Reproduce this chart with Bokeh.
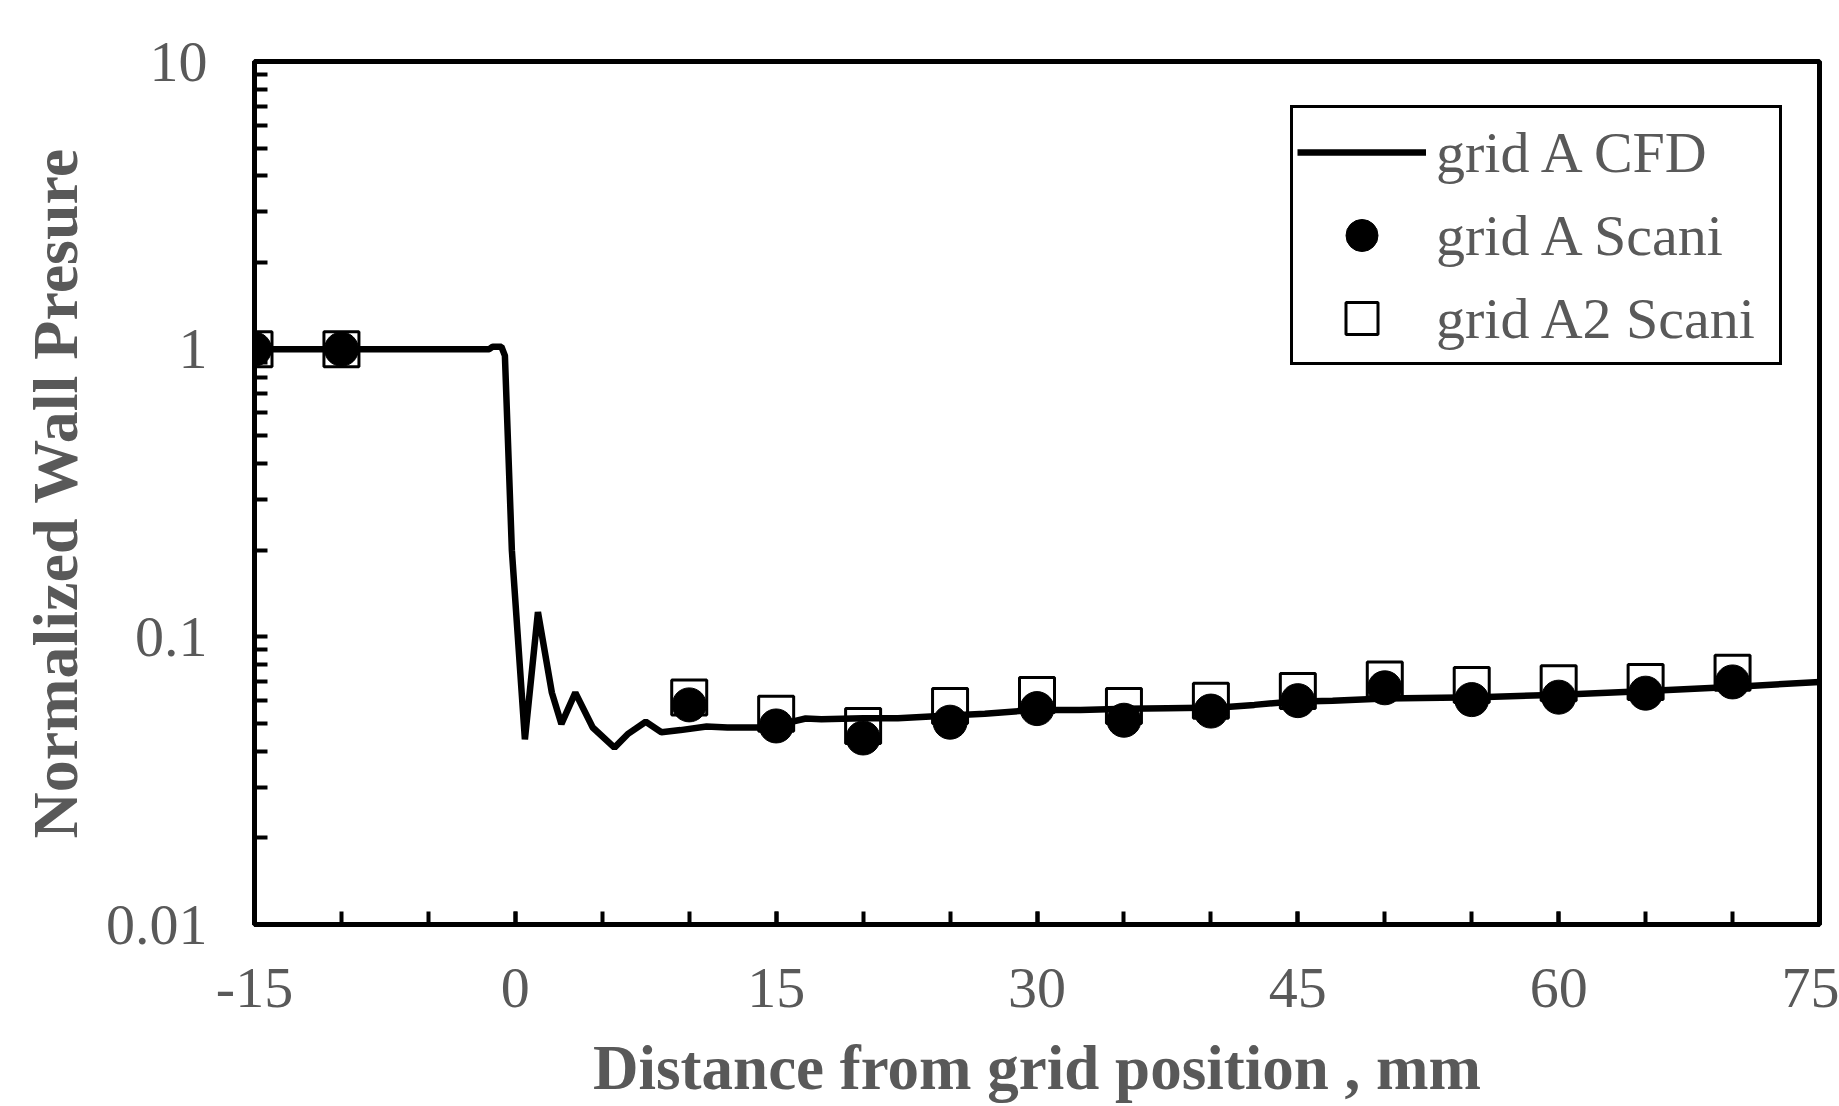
from bokeh.plotting import figure
from bokeh.models import Range1d, FixedTicker, CustomJSTickFormatter, Legend, LegendItem
from bokeh.embed import file_html
from bokeh.resources import INLINE

# ---- data ----
cfd_x = [-15, -1.5, -1.3, -0.8, -0.6, -0.2, 0.55, 1.3, 2.1, 2.65, 3.45, 4.45, 5.7,
         6.5, 7.5, 8.4, 9.5, 11, 12.2, 14.2, 15.5, 16.7, 17.6, 20, 22, 24.4, 27,
         29.8, 32.5, 35.1, 37.5, 40.5, 42.5, 44.6, 47, 50, 55.4, 60.1, 64.8, 70.2, 75]
cfd_y = [1.0, 1.0, 1.02, 1.02, 0.95, 0.2, 0.044, 0.122, 0.064, 0.0498, 0.064, 0.0484,
         0.0412, 0.0461, 0.0507, 0.0466, 0.0474, 0.0488, 0.0484, 0.0484, 0.0500, 0.052,
         0.0517, 0.0521, 0.0521, 0.0531, 0.054, 0.0557, 0.0557, 0.0562, 0.0565, 0.0568,
         0.058, 0.0595, 0.060, 0.0611, 0.0617, 0.0629, 0.0647, 0.0671, 0.0697]

scan_x = [-15, -10, 10, 15, 20, 25, 30, 35, 40, 45, 50, 55, 60, 65, 70]
gridA_scani = [1.0, 1.0, 0.058, 0.049, 0.0445, 0.0505, 0.0563, 0.0513, 0.0552,
               0.060, 0.0665, 0.0605, 0.0617, 0.0637, 0.0697]
gridA2_scani = [1.0, 1.0, 0.0615, 0.054, 0.049, 0.0575, 0.0628, 0.0575, 0.060,
                0.0648, 0.071, 0.068, 0.069, 0.0697, 0.075]

x_ticks = [-15, 0, 15, 30, 45, 60, 75]
x_minor_ticks = [-15, -10, -5, 0, 5, 10, 15, 20, 25, 30, 35, 40, 45, 50, 55, 60, 65, 70, 75]
y_ticks = [0.01, 0.1, 1, 10]
y_minor_ticks = [m * 10.0 ** e for e in (-2, -1, 0) for m in range(2, 10)]

x_title = "Distance from grid position , mm"
y_title = "Normalized Wall Presure"
labels = ["grid A CFD", "grid A Scani", "grid A2 Scani"]

FONT = "Liberation Serif"
GREY = "#595959"

p = figure(width=1839, height=1106,
           x_range=Range1d(-15, 75), y_range=Range1d(0.01, 10),
           y_axis_type="log", output_backend="svg", toolbar_location=None,
           min_border_left=254, min_border_right=20, min_border_top=61,
           min_border_bottom=182)
p.background_fill_color = "white"
p.border_fill_color = "white"
p.outline_line_color = "black"
p.outline_line_width = 5
p.grid.visible = False

xa = p.xaxis[0]
xa.ticker = FixedTicker(ticks=x_ticks, minor_ticks=x_minor_ticks)
xa.formatter = CustomJSTickFormatter(code="return tick.toString();")
ya = p.yaxis[0]
ya.ticker = FixedTicker(ticks=y_ticks, minor_ticks=y_minor_ticks)
ya.formatter = CustomJSTickFormatter(code="return tick.toString();")

for ax in (xa, ya):
    ax.axis_line_color = "black"
    ax.axis_line_width = 5
    ax.major_tick_in = 13
    ax.major_tick_out = 0
    ax.minor_tick_in = 13
    ax.minor_tick_out = 0
    ax.major_tick_line_width = 4
    ax.minor_tick_line_width = 4
    ax.major_tick_line_color = "black"
    ax.minor_tick_line_color = "black"
    ax.major_label_text_font = FONT
    ax.major_label_text_font_size = "58px"
    ax.major_label_text_color = GREY
    ax.axis_label_text_font = FONT
    ax.axis_label_text_font_style = "bold"
    ax.axis_label_text_color = GREY

xa.axis_label = x_title
ya.axis_label = y_title
xa.axis_label_text_font_size = "63px"
ya.axis_label_text_font_size = "64px"
xa.major_label_standoff = 44
xa.axis_label_standoff = 23
ya.major_label_standoff = 47
ya.axis_label_standoff = 12

r_line = p.line(cfd_x, cfd_y, line_color="black", line_width=6.5)
r_sq = p.scatter(scan_x, gridA2_scani, marker="square", size=35,
                 line_color="black", line_width=3, fill_alpha=0)
r_ci = p.scatter(scan_x, gridA_scani, marker="circle", size=34,
                 line_color="black", fill_color="black")

legend = Legend(items=[LegendItem(label=labels[0], renderers=[r_line]),
                       LegendItem(label=labels[1], renderers=[r_ci]),
                       LegendItem(label=labels[2], renderers=[r_sq])],
                location=(1036, 559))
legend.glyph_width = 129
legend.glyph_height = 80
legend.spacing = 3
legend.padding = 4
legend.margin = 0
legend.label_standoff = 10
legend.label_width = 339
legend.label_text_font = FONT
legend.label_text_font_size = "58px"
legend.label_text_color = GREY
legend.border_line_color = "black"
legend.border_line_alpha = 1
legend.border_line_width = 3
legend.background_fill_color = "white"
legend.background_fill_alpha = 1
p.add_layout(legend, "center")

open("out.html", "w").write(file_html(p, INLINE))
